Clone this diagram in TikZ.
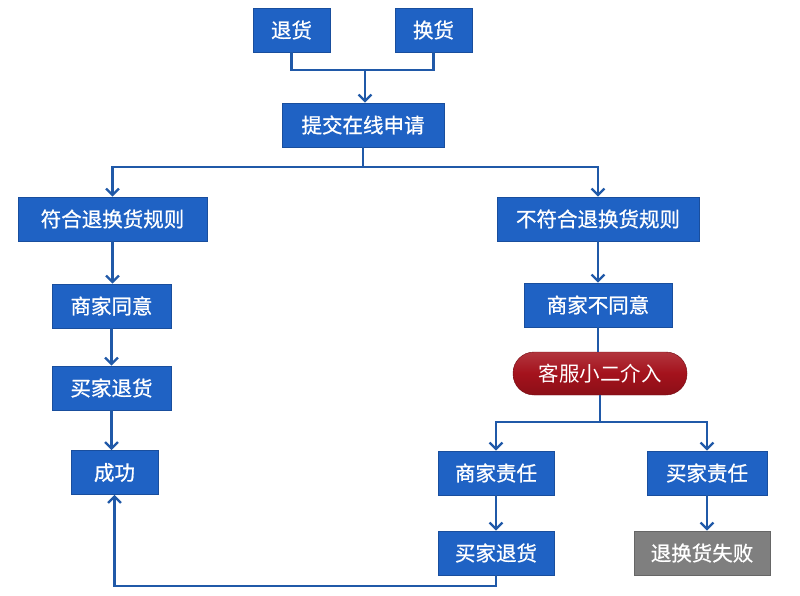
\documentclass[tikz,border=0pt]{standalone}
\usepackage{fontspec}
\newfontfamily\cjk[FakeBold=0.8]{Noto Sans CJK SC}
\newfontfamily\cjkl{Noto Sans CJK SC}
\usetikzlibrary{arrows.meta}
\definecolor{boxblue}{HTML}{1F62C4}
\definecolor{lineblue}{HTML}{2059A8}
\definecolor{boxgray}{HTML}{7F7F7F}
\definecolor{pillred}{HTML}{A4121C}
\tikzset{
  x=1pt,y=-1pt,
  bx/.style={rectangle,fill=boxblue,text=white,font=\cjk\fontsize{20.5}{20.5}\selectfont,inner sep=0pt,draw=boxblue!80!black,line width=0.6pt},
  gx/.style={bx,fill=boxgray,draw=boxgray!80!black},
  pill/.style={rectangle,rounded corners=21pt,top color=pillred!85!white,bottom color=pillred!85!black,middle color=pillred,draw=pillred!70!black,text=white,font=\cjkl\fontsize{20.5}{20.5}\selectfont,inner sep=0pt,minimum width=174pt,minimum height=43pt},
  ln/.style={draw=lineblue,line width=2.3pt},
  ar/.style={ln,-{Straight Barb[length=6.5pt,width=13pt,line width=2.3pt]}},
}
\begin{document}
\begin{tikzpicture}
\useasboundingbox[fill=white] (0,0) rectangle (800,595);
\node[bx,minimum width=77pt,minimum height=44pt] (th) at (291.5,30) {退货};
\node[bx,minimum width=77pt,minimum height=44pt] (hh) at (433.5,30) {换货};
\node[bx,minimum width=162pt,minimum height=44pt] (tj) at (363,125) {提交在线申请};
\node[bx,minimum width=189pt,minimum height=44pt] (fh) at (112.5,219) {符合退换货规则};
\node[bx,minimum width=202pt,minimum height=44pt] (bfh) at (598,219) {不符合退换货规则};
\node[bx,minimum width=119pt,minimum height=44pt] (sjty) at (111.5,306) {商家同意};
\node[bx,minimum width=148pt,minimum height=44pt] (sjbty) at (598,305) {商家不同意};
\node[bx,minimum width=119pt,minimum height=44pt] (mjth1) at (111.5,388) {买家退货};
\node[bx,minimum width=87pt,minimum height=44pt] (cg) at (114.5,472.5) {成功};
\node[pill] (kf) at (600,373.5) {客服小二介入};
\node[bx,minimum width=116pt,minimum height=44pt] (sjzr) at (496,473) {商家责任};
\node[bx,minimum width=120pt,minimum height=44pt] (mjzr) at (707,473) {买家责任};
\node[bx,minimum width=116pt,minimum height=44pt] (mjth2) at (496,553) {买家退货};
\node[gx,minimum width=136pt,minimum height=44pt] (sb) at (702,553) {退换货失败};
% top merge
\coordinate (m1) at (365,70);
\draw[ln] (th.south) |- (m1) -| (hh.south);
\draw[ar] (m1) -- (m1 |- tj.north);
% split
\coordinate (s1) at (363,167);
\draw[ln] (tj.south) -- (s1);
\draw[ar] (s1) -| (fh.north);
\draw[ar] (s1) -| (bfh.north);
% left column
\draw[ar] (fh.south) -- (fh.south |- sjty.north);
\draw[ar] (sjty.south) -- (mjth1.north);
\draw[ar] (mjth1.south) -- (mjth1.south |- cg.north);
% right column
\draw[ar] (bfh.south) -- (bfh.south |- sjbty.north);
\draw[ln] (sjbty.south) -- (sjbty.south |- kf.north);
\coordinate (s2) at (600,422);
\draw[ln] (kf.south) -- (s2);
\draw[ar] (s2) -| (sjzr.north);
\draw[ar] (s2) -| (mjzr.north);
\draw[ar] (sjzr.south) -- (mjth2.north);
\draw[ar] (mjzr.south) -- (mjzr.south |- sb.north);
% return
\coordinate (r1) at (496,586);
\draw[ar] (mjth2.south) -- (r1) -| (cg.south);
\end{tikzpicture}
\end{document}
